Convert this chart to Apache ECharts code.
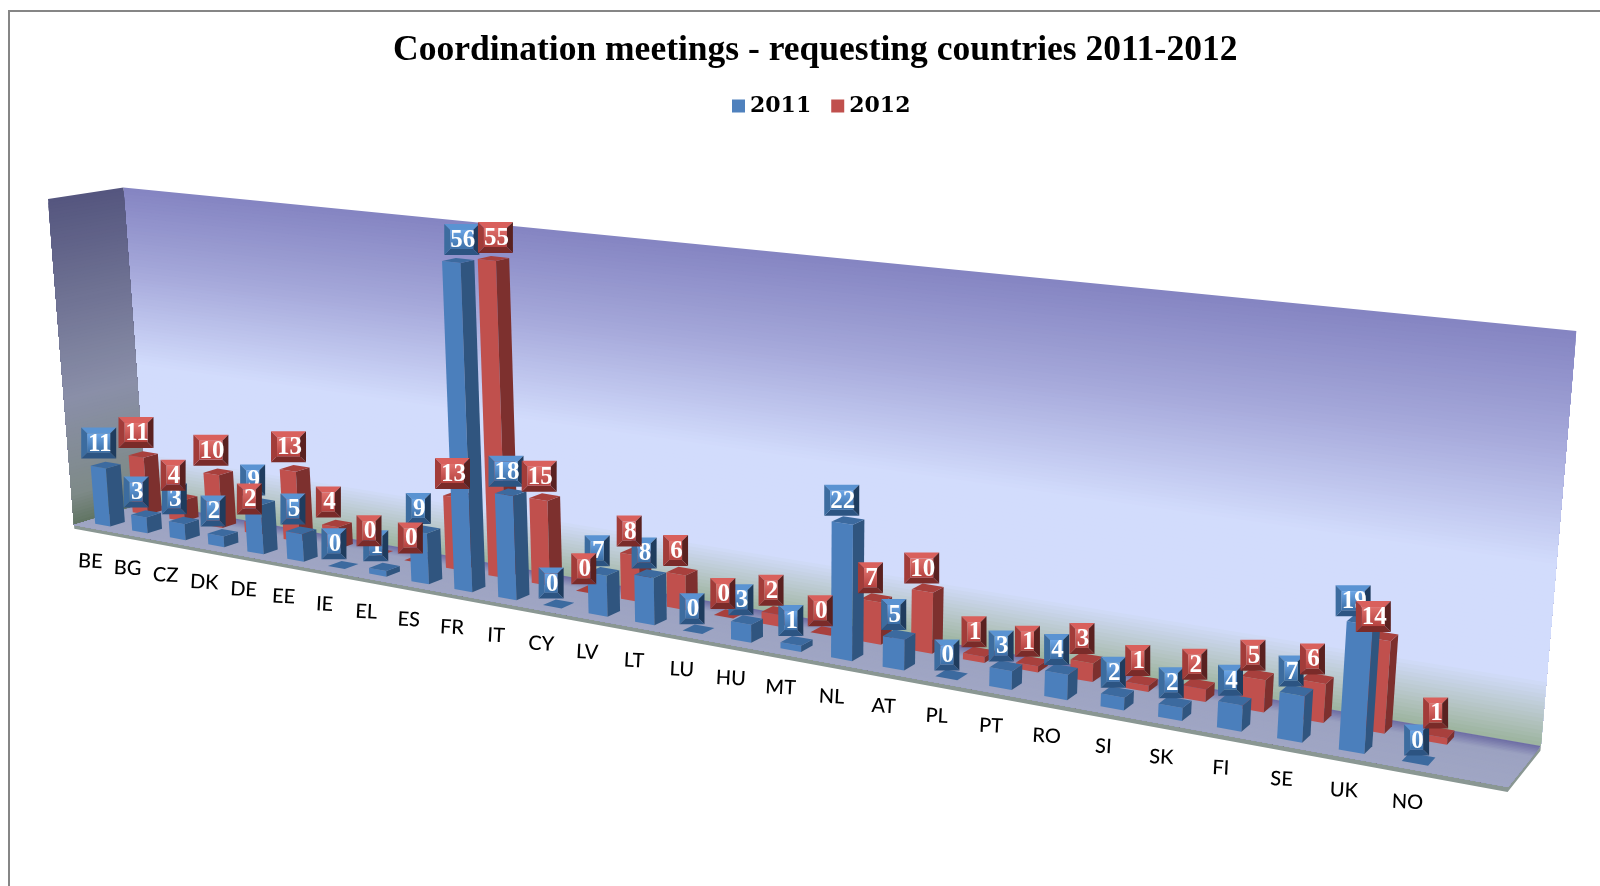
<!DOCTYPE html>
<html>
<head>
<meta charset="utf-8">
<style>html,body{margin:0;padding:0;background:#fff}#bar{width:1600px;height:886px}</style>
<script src="https://cdn.jsdelivr.net/npm/echarts@6/dist/echarts.min.js"></script>
</head>
<body>
<div id="bar"></div>
<script>
var categories = ['BE','BG','CZ','DK','DE','EE','IE','EL','ES','FR','IT','CY','LV','LT','LU','HU','MT','NL','AT','PL','PT','RO','SI','SK','FI','SE','UK','NO'];
var values2011 = [11,3,3,2,9,5,0,1,9,56,18,0,7,8,0,3,1,22,5,0,3,4,2,2,4,7,19,0];
var values2012 = [11,4,10,2,13,4,0,0,13,55,15,0,8,6,0,2,0,7,10,1,1,3,1,2,5,6,14,1];
var axisMax = 60;

// perspective of the box: floor front-left, front-right, back-left, and top of the left edge
var FL = [74,525], FR = [1508,787], BL = [146,503], TFL = [48,199];
var G = -0.26, E = 0.0342, F = -0.035;
function sub1(p, k){ return [p[0]*k-FL[0], p[1]*k-FL[1]]; }
var vA = sub1(FR,1+G), vB = sub1(BL,1+E), vC = sub1(TFL,1+F);
function project(u,d,h){
    var w = 1+G*u+E*d+F*h;
    return [(FL[0]+vA[0]*u+vB[0]*d+vC[0]*h)/w, (FL[1]+vA[1]*u+vB[1]*d+vC[1]*h)/w];
}

function hex2rgb(c){ return [parseInt(c.substr(1,2),16),parseInt(c.substr(3,2),16),parseInt(c.substr(5,2),16)]; }
function ramp(stops,t){
    for (var i=1;i<stops.length;i++){
        if (t<=stops[i][0]){
            var a=stops[i-1], b=stops[i], k=(t-a[0])/(b[0]-a[0]);
            var c1=hex2rgb(a[1]), c2=hex2rgb(b[1]);
            return 'rgb('+Math.round(c1[0]+(c2[0]-c1[0])*k)+','+Math.round(c1[1]+(c2[1]-c1[1])*k)+','+Math.round(c1[2]+(c2[2]-c1[2])*k)+')';
        }
    }
    return stops[stops.length-1][1];
}
function poly(points,fill){
    return {type:'polygon',shape:{points:points},style:{fill:fill}};
}

var wallStops = [[0,'#9ab29b'],[0.07,'#b4c4c2'],[0.17,'#d2dcfc'],[0.45,'#d2dcfc'],[0.75,'#a5a8da'],[1,'#8585c2']];
var sideStops = [[0,'#5f7360'],[0.1,'#7e8a88'],[0.4,'#8a8fa8'],[1,'#55567f']];
var floorStops = [[0,'#a0a6c4'],[0.75,'#9ca2c1'],[1,'#6f6fa5']];

function renderBox(params, api){
    var kids = [], n = 100, i, b;
    // walls and floor are painted from the far edge in, each layer covering the last, so the shading follows the perspective
    for (i=n;i>0;i--){
        b=i/n;
        kids.push(poly([project(0,1,0),project(1,1,0),project(1,1,b),project(0,1,b)],ramp(wallStops,b)));
    }
    for (i=n;i>0;i--){
        b=i/n;
        kids.push(poly([project(0,0,0),project(0,1,0),project(0,1,b),project(0,0,b)],ramp(sideStops,b)));
    }
    var t = -0.012;
    kids.push(poly([project(0,0,t),project(1,0,t),project(1,1,t),project(1,1,0),project(1,0,0),project(0,0,0)],'#8a9793'));
    for (i=30;i>0;i--){
        b=i/30;
        kids.push(poly([project(0,0,0),project(1,0,0),project(1,b,0),project(0,b,0)],ramp(floorStops,b)));
    }
    return {type:'group',children:kids};
}

// u,h of a data point, read through the hidden axes
function toModel(params, api){
    var cs = params.coordSys, p = api.coord([api.value(0),api.value(1)]);
    return {u:(p[0]-cs.x)/cs.width, h:(cs.y+cs.height-p[1])/cs.height, du:api.size([1,0])[0]/cs.width};
}

function barRenderer(dc, colors){
    return function(params, api){
        var m = toModel(params,api), hw = m.du*0.205, hd = 0.1;
        var u0=m.u-hw, u1=m.u+hw, d0=dc-hd, d1=dc+hd, h=m.h;
        var kids = [];
        if (h>0){
            kids.push(poly([project(u0,d0,0),project(u1,d0,0),project(u1,d0,h),project(u0,d0,h)],colors.front));
            kids.push(poly([project(u1,d0,0),project(u1,d1,0),project(u1,d1,h),project(u1,d0,h)],colors.side));
        }
        kids.push(poly([project(u0,d0,h),project(u1,d0,h),project(u1,d1,h),project(u0,d1,h)],colors.top));
        return {type:'group',children:kids};
    };
}

function labelRenderer(dc, colors){
    return function(params, api){
        var m = toModel(params,api), val = api.value(1);
        var txt = String(val), hw = txt.length>1 ? 17.5 : 12.5, hh = 15.5, bv = 6;
        // label sits over the foot of the bar, not over its leaning top
        var x = project(m.u,dc,0)[0]-8+(m.u-0.35)*10, y = project(m.u,dc,m.h)[1]-22+m.u*3;
        var l=x-hw, r=x+hw, t=y-hh, b=y+hh;
        return {type:'group',children:[
            {type:'polygon',shape:{points:[[l,t],[r,t],[r-bv,t+bv],[l+bv,t+bv]]},style:{fill:colors.bt}},
            {type:'polygon',shape:{points:[[r,t],[r,b],[r-bv,b-bv],[r-bv,t+bv]]},style:{fill:colors.br}},
            {type:'polygon',shape:{points:[[l,b],[r,b],[r-bv,b-bv],[l+bv,b-bv]]},style:{fill:colors.bb}},
            {type:'polygon',shape:{points:[[l,t],[l,b],[l+bv,b-bv],[l+bv,t+bv]]},style:{fill:colors.bl}},
            {type:'rect',shape:{x:l+bv,y:t+bv,width:2*hw-2*bv,height:2*hh-2*bv},style:{fill:new echarts.graphic.LinearGradient(0,0,0,1,[{offset:0,color:colors.c0},{offset:1,color:colors.c1}])}},
            {type:'text',style:{text:txt,x:x+1,y:y+1,align:'center',verticalAlign:'middle',fill:'#fff',font:'bold 25px "Liberation Serif"',shadowColor:'rgba(0,0,0,0.6)',shadowBlur:2,shadowOffsetX:1,shadowOffsetY:1}}
        ]};
    };
}

function renderCategory(params, api){
    var m = toModel(params,api), p = project(m.u,0,0);
    return {type:'text',x:p[0]-2,y:p[1]+33,rotation:-0.05,style:{text:categories[api.value(0)],x:0,y:0,align:'center',verticalAlign:'middle',fill:'#000',font:'500 20px Lato'}};
}

var blue = {front:'#4b7fbc',side:'#30557f',top:'#3c6a9f',bt:'#5a93d2',bl:'#3c6c9f',br:'#1f3c5e',bb:'#2c5482',c0:'#6ba5e6',c1:'#3a6ea6'};
var red = {front:'#c0504d',side:'#7d302e',top:'#a8403d',bt:'#d9605c',bl:'#a23c39',br:'#5a2120',bb:'#7a2b29',c0:'#e0716d',c1:'#b5423f'};

function pairs(arr){ return arr.map(function(v,i){ return [i,v]; }); }

var optionBar = {
    animation:false,
    backgroundColor:'#fff',
    graphic:[{type:'rect',silent:true,z:0,shape:{x:9,y:11,width:1700,height:1000},style:{fill:'none',stroke:'#868686',lineWidth:2}}],
    title:{
        text:'Coordination meetings - requesting countries 2011-2012',
        left:388, top:28,
        textStyle:{color:'#000',fontSize:35.5,fontWeight:'bold',fontFamily:'Liberation Serif'}
    },
    legend:{
        data:['2011','2012'],
        left:727, top:90,
        icon:'rect', itemWidth:13, itemHeight:13, itemGap:20,
        textStyle:{color:'#000',fontSize:22,fontWeight:'bold',fontFamily:'DejaVu Serif'}
    },
    grid:{left:100,top:100,width:1400,height:600},
    xAxis:{type:'category',data:categories.concat(['']),show:false},
    yAxis:{type:'value',min:0,max:axisMax,show:false},
    series:[
        {type:'custom',name:'box',z:1,silent:true,data:[[0,0]],renderItem:renderBox},
        {type:'custom',name:'2012',z:2,silent:true,itemStyle:{color:'#c0504d'},data:pairs(values2012),renderItem:barRenderer(0.76,red)},
        {type:'custom',name:'2011',z:3,silent:true,itemStyle:{color:'#4f81bd'},data:pairs(values2011),renderItem:barRenderer(0.24,blue)},
        {type:'custom',name:'2011',z:4,silent:true,itemStyle:{color:'#4f81bd'},data:pairs(values2011),renderItem:labelRenderer(0.24,blue)},
        {type:'custom',name:'2012',z:5,silent:true,itemStyle:{color:'#c0504d'},data:pairs(values2012),renderItem:labelRenderer(0.76,red)},
        {type:'custom',name:'axis',z:6,silent:true,data:pairs(categories.map(function(){return 0;})),renderItem:renderCategory}
    ]
};

var bar_echarts = echarts.init(document.querySelector('#bar'));
bar_echarts.setOption(optionBar);
</script>
</body>
</html>
